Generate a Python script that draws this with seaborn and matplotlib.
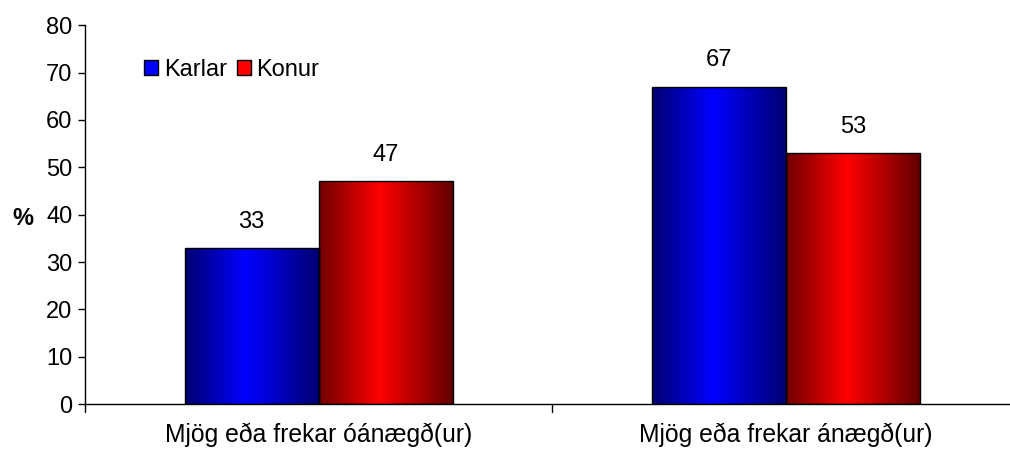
import matplotlib
matplotlib.use("Agg")
import matplotlib.pyplot as plt
import seaborn as sns
import numpy as np
import pandas as pd
from matplotlib.colors import LinearSegmentedColormap
from matplotlib.patches import Patch

categories = ["Mjög eða frekar óánægð(ur)", "Mjög eða frekar ánægð(ur)"]
groups = ["Karlar", "Konur"]
karlar = [33, 67]
konur = [47, 53]

df = pd.DataFrame({
    "flokkur": categories * 2,
    "kyn": [groups[0]] * 2 + [groups[1]] * 2,
    "gildi": karlar + konur,
})

sns.set_theme(style="white", rc={"text.color": "black", "axes.labelcolor": "black",
                                 "xtick.color": "black", "ytick.color": "black"})
plt.rcParams["font.family"] = ["Liberation Sans", "DejaVu Sans"]

fig = plt.figure(figsize=(10.1, 4.5), dpi=100)
ax = fig.add_axes([0.0842, 0.102, 0.925, 0.842])

palette = {"Karlar": "#0000ff", "Konur": "#ff0000"}
sns.barplot(data=df, x="flokkur", y="gildi", hue="kyn", palette=palette,
            width=0.574, edgecolor="black", linewidth=1.0, saturation=1,
            ax=ax, legend=False)

# gradient fill per bar (dark edges, bright left of centre)
blue_cmap = LinearSegmentedColormap.from_list(
    "b", [(0, "#000070"), (0.45, "#0000ff"), (1, "#000070")])
red_cmap = LinearSegmentedColormap.from_list(
    "r", [(0, "#700000"), (0.45, "#ff0000"), (1, "#600000")])
grad = np.linspace(0, 1, 256).reshape(1, -1)
for i, patch in enumerate(ax.patches):
    x0, y0 = patch.get_x(), patch.get_y()
    w, h = patch.get_width(), patch.get_height()
    cmap = blue_cmap if i < 2 else red_cmap
    im = ax.imshow(grad, cmap=cmap, aspect="auto",
                   extent=[x0, x0 + w, y0, y0 + h], zorder=patch.get_zorder() - 0.1)
    im.set_clip_path(patch)
    patch.set_facecolor("none")
    patch.set_zorder(3)
    ax.annotate(f"{int(round(h))}", (x0 + w / 2, h), xytext=(0, 11),
                textcoords="offset points", ha="center", va="bottom", fontsize=17)

ax.set_xlim(-0.5, 1.5)
ax.set_ylim(0, 80)
ax.set_yticks(range(0, 81, 10))
ax.tick_params(axis="y", labelsize=17, length=5, width=1, direction="out", left=True, pad=4)
ax.set_xticks([0, 1])
ax.set_xticklabels(categories, fontsize=17.8)
ax.tick_params(axis="x", length=0, pad=13)
for xb in [-0.5, 0.5, 1.5]:
    ax.plot([xb, xb], [0, -1.6], color="black", lw=1, clip_on=False)
ax.set_xlabel("")
ax.set_ylabel("%", fontsize=17, fontweight="bold", rotation=0, va="center")
ax.yaxis.set_label_coords(-0.067, 0.49)

for s in ["top", "right"]:
    ax.spines[s].set_visible(False)
for s in ["left", "bottom"]:
    ax.spines[s].set_color("black")
    ax.spines[s].set_linewidth(1)

handles = [Patch(facecolor=palette[g], edgecolor="black", label=g) for g in groups]
ax.legend(handles=handles, loc="upper left", bbox_to_anchor=(0.053, 0.935), ncol=2,
          frameon=False, fontsize=17, handlelength=0.6, handleheight=0.6,
          handletextpad=0.25, columnspacing=0.4, borderaxespad=0)

fig.savefig("out.png", dpi=100)
